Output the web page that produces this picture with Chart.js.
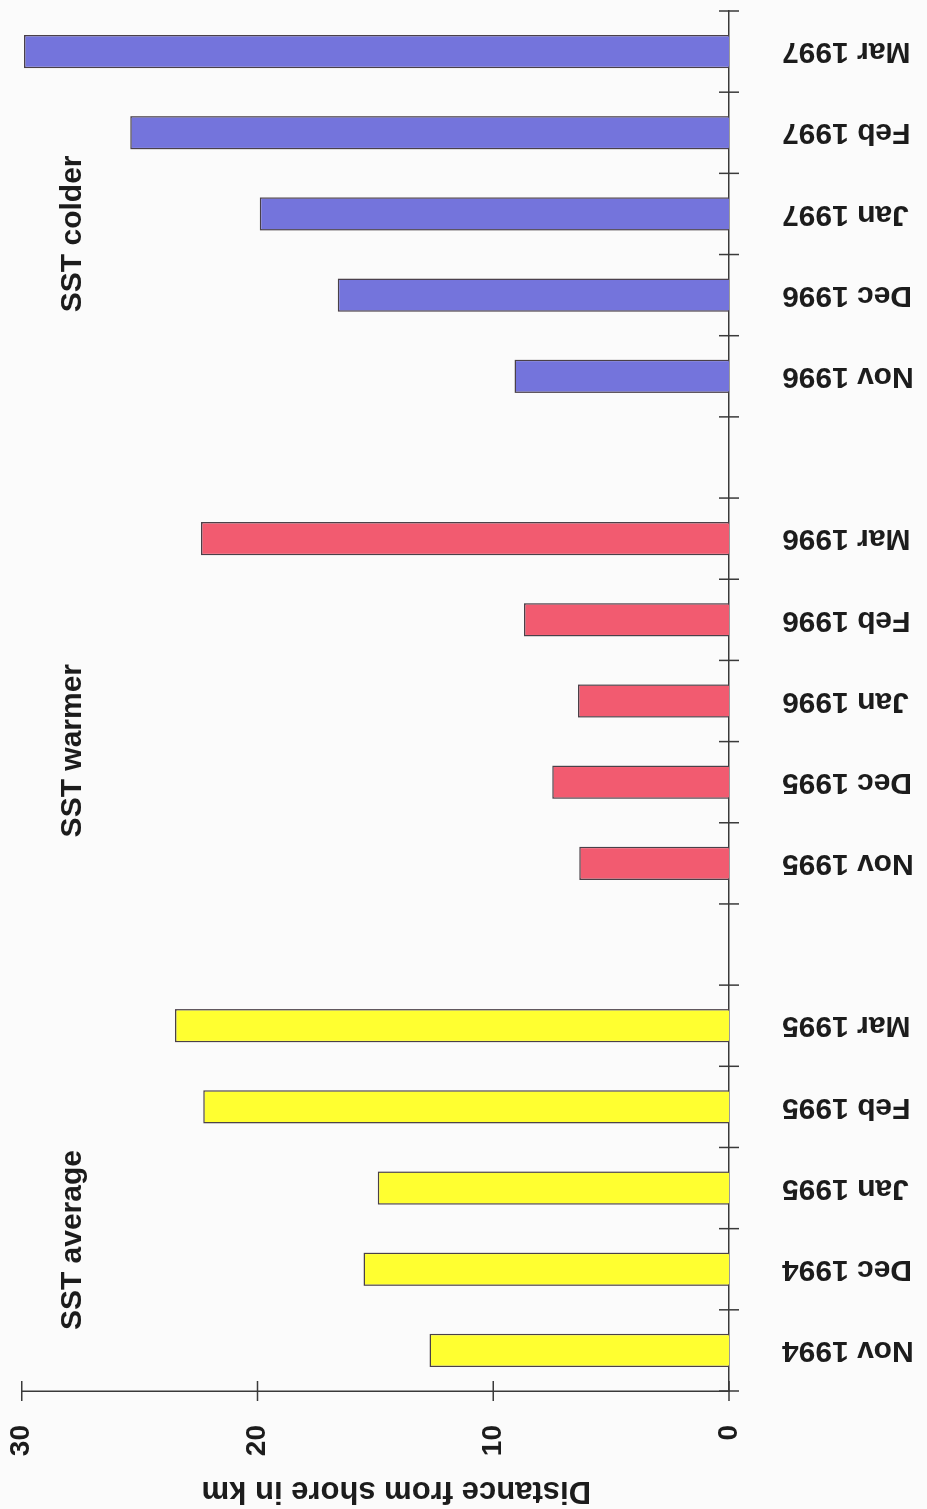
<!DOCTYPE html>
<html>
<head>
<meta charset="utf-8">
<title>Distance from shore in km</title>
<script src="https://cdn.jsdelivr.net/npm/chart.js@4/dist/chart.umd.min.js"></script>
<style>
  html, body { margin: 0; padding: 0; background: #fbfbfb; overflow: hidden; }
  body { width: 927px; height: 1509px; position: relative; }
  /* The column chart is laid out landscape and turned a quarter turn anticlockwise */
  #frame {
    position: absolute; left: 0; top: 0;
    width: 1509px; height: 927px;
    transform-origin: 0 0;
    transform: translate(0, 1509px) rotate(-90deg);
  }
  canvas { display: block; }
</style>
</head>
<body>
<div id="frame"><canvas id="chart" width="1509" height="927"></canvas></div>
<script>
// Monthly distance from shore (km), November to March of three winters
const months = [
  'Nov 1994', 'Dec 1994', 'Jan 1995', 'Feb 1995', 'Mar 1995', '',
  'Nov 1995', 'Dec 1995', 'Jan 1996', 'Feb 1996', 'Mar 1996', '',
  'Nov 1996', 'Dec 1996', 'Jan 1997', 'Feb 1997', 'Mar 1997'
];
const distanceKm = [
  12.7, 15.5, 14.9, 22.3, 23.5, null,
  6.35, 7.5, 6.4, 8.7, 22.4, null,
  9.1, 16.6, 19.9, 25.4, 29.9
];
const sstClass = [
  'average', 'average', 'average', 'average', 'average', null,
  'warmer', 'warmer', 'warmer', 'warmer', 'warmer', null,
  'colder', 'colder', 'colder', 'colder', 'colder'
];
const groupLabels = ['SST average', 'SST warmer', 'SST colder'];
const valueTicks = [0, 10, 20, 30];
const axisTitle = 'Distance from shore in km';

const classColours = { average: '#ffff30', warmer: '#f25b70', colder: '#7474dc' };
const FONT = "'Liberation Sans', Arial, Helvetica, sans-serif";
const INK = '#1c1c1c';
const AXIS = '#3a3a3a';

// Short tick marks that cross both axes
const crossTicks = {
  id: 'crossTicks',
  afterDatasetsDraw(chart) {
    const { ctx, chartArea, scales: { x, y } } = chart;
    const half = 10;
    ctx.save();
    ctx.strokeStyle = AXIS;
    ctx.lineWidth = 1.5;
    ctx.beginPath();
    for (let i = 0; i <= months.length; i++) {
      const px = x.getPixelForValue(i - 0.5);
      ctx.moveTo(px, chartArea.bottom - half);
      ctx.lineTo(px, chartArea.bottom + half);
    }
    valueTicks.forEach(v => {
      const py = y.getPixelForValue(v);
      ctx.moveTo(chartArea.left - half, py);
      ctx.lineTo(chartArea.left + half, py);
    });
    ctx.stroke();
    ctx.restore();
  }
};

// Winter class captions written above each group of columns
const groupText = {
  id: 'groupText',
  afterDatasetsDraw(chart, args, opts) {
    const { ctx, scales: { x, y } } = chart;
    ctx.save();
    ctx.fillStyle = INK;
    ctx.font = 'bold 30px ' + FONT;
    ctx.textAlign = 'left';
    ctx.textBaseline = 'alphabetic';
    groupLabels.forEach((txt, i) => {
      ctx.fillText(txt, x.getPixelForValue(opts.anchors[i]), y.getPixelForValue(opts.baseline));
    });
    ctx.restore();
  }
};

// Value axis title, turned to run up the left side
const axisTitleText = {
  id: 'axisTitleText',
  afterDraw(chart, args, opts) {
    const { ctx, chartArea } = chart;
    ctx.save();
    ctx.fillStyle = INK;
    ctx.font = 'bold 31px ' + FONT;
    ctx.textAlign = 'center';
    ctx.textBaseline = 'alphabetic';
    ctx.translate(chartArea.left - opts.gap, (chartArea.top + chartArea.bottom) / 2 + opts.shift);
    ctx.rotate(-Math.PI / 2);
    ctx.fillText(axisTitle, 0, 0);
    ctx.restore();
  }
};

new Chart(document.getElementById('chart'), {
  type: 'bar',
  data: {
    labels: months,
    datasets: [{
      data: distanceKm,
      backgroundColor: sstClass.map(c => c ? classColours[c] : 'rgba(0,0,0,0)'),
      borderColor: '#4a4048',
      borderWidth: 1.5,
      barPercentage: 0.41,
      categoryPercentage: 1.0
    }]
  },
  options: {
    responsive: false,
    animation: false,
    devicePixelRatio: 1,
    layout: { padding: { top: 21.7, right: 11, bottom: 0, left: 0 } },
    plugins: {
      legend: { display: false },
      tooltip: { enabled: false },
      groupText: { anchors: [0.25, 6.32, 12.79], baseline: 27.5 },
      axisTitleText: { gap: 91, shift: 21 }
    },
    scales: {
      x: {
        grid: { display: false, drawTicks: false },
        border: { display: true, color: AXIS, width: 1.5 },
        ticks: {
          autoSkip: false, minRotation: 90, maxRotation: 90, padding: 53,
          color: INK, font: { family: FONT, size: 30, weight: 'bold' }
        },
        afterFit(s) { s.height = 198; s.paddingLeft = 0; s.paddingRight = 0; }
      },
      y: {
        min: 0, max: 30,
        grid: { display: false, drawTicks: false },
        border: { display: true, color: AXIS, width: 1.5 },
        ticks: { padding: 34, color: INK, font: { family: FONT, size: 28, weight: 'bold' } },
        afterBuildTicks(s) { s.ticks = valueTicks.map(v => ({ value: v })); },
        afterFit(s) { s.width = 118; s.paddingTop = 0; s.paddingBottom = 0; }
      }
    }
  },
  plugins: [crossTicks, groupText, axisTitleText]
});
</script>
</body>
</html>
